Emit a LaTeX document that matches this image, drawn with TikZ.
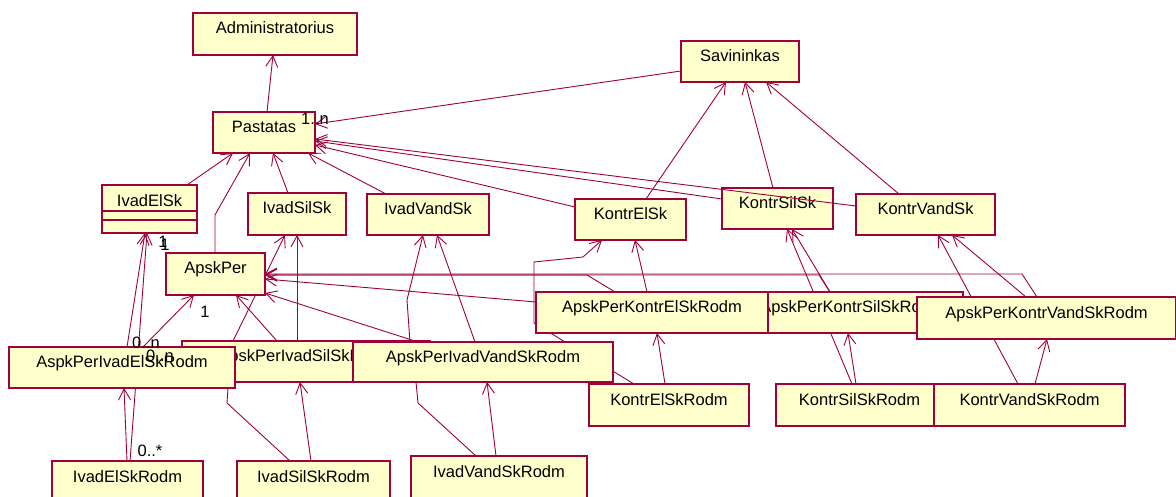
\documentclass[tikz,border=0pt]{standalone}
\usepackage{fontspec}
\setmainfont{Liberation Sans}
\usetikzlibrary{arrows.meta}
\definecolor{umlline}{RGB}{160,0,60}
\definecolor{umlfill}{RGB}{255,255,204}
\pgfdeclarelayer{back}
\pgfdeclarelayer{bg}
\pgfsetlayers{back,bg,main}
\begin{document}
\begin{tikzpicture}[x=1pt,y=-1pt,
  font=\fontsize{16.5}{19}\selectfont,
  cls/.style 2 args={rectangle, draw=umlline, fill=umlfill, line width=1.1pt,
    anchor=north west, inner sep=0pt, outer sep=0pt,
    minimum width=#1, minimum height=#2, text height=10pt, text depth=10pt},
  assoc/.style={draw=umlline, line width=0.9pt},
  nav/.style={assoc, -{Straight Barb[length=11pt,width=12pt]}},
  mult/.style={inner sep=0pt}
]
\begin{pgfonlayer}{back}
  \fill[white] (0,0) rectangle (1176,497);
\end{pgfonlayer}
\useasboundingbox (0,0) rectangle (1176,497);

% ---------- classes ----------
\node[cls={164pt}{42pt}] (Adm) at (193,13) {Administratorius};
\node[cls={102pt}{41pt}] (Pas) at (213,112) {Pastatas};
\node[cls={95pt}{48pt}, text depth=14pt] (IEl) at (102,185) {IvadElSk};
\draw[umlline, line width=1.1pt] ([yshift=-26pt]IEl.north west) -- ([yshift=-26pt]IEl.north east);
\draw[umlline, line width=1.1pt] ([yshift=-35pt]IEl.north west) -- ([yshift=-35pt]IEl.north east);
\node[cls={98pt}{42pt}] (ISil) at (248,193) {IvadSilSk};
\node[cls={122pt}{41pt}] (IVand) at (367,194) {IvadVandSk};
\node[cls={111pt}{41pt}] (KEl) at (575,199) {KontrElSk};
\node[cls={118pt}{41pt}] (Sav) at (681,41) {Savininkas};
\node[cls={111pt}{41pt}] (KSil) at (722,188) {KontrSilSk};
\node[cls={139pt}{41pt}] (KVand) at (856,194) {KontrVandSk};
\node[cls={99pt}{42pt}] (AP) at (166,253) {ApskPer};
\node[cls={248pt}{41pt}] (APISil) at (182,341) {ApskPerIvadSilSkRodm};
\node[cls={226pt}{41pt}] (APIEl) at (9,347) {AspkPerIvadElSkRodm};
\node[cls={260pt}{40pt}] (APIVand) at (353,342) {ApskPerIvadVandSkRodm};
\node[cls={222pt}{41pt}] (APKSil) at (741,292) {ApskPerKontrSilSkRodm};
\node[cls={232pt}{41pt}] (APKEl) at (536,292) {ApskPerKontrElSkRodm};
\node[cls={259pt}{42pt}] (APKVand) at (917,297) {ApskPerKontrVandSkRodm};
\node[cls={160pt}{42pt}] (KElR) at (589,384) {KontrElSkRodm};
\node[cls={167pt}{42pt}] (KSilR) at (776,384) {KontrSilSkRodm};
\node[cls={191pt}{42pt}] (KVandR) at (934,384) {KontrVandSkRodm};
\node[cls={151pt}{42pt}] (IElR) at (52,461) {IvadElSkRodm};
\node[cls={153pt}{42pt}] (ISilR) at (237,461) {IvadSilSkRodm};
\node[cls={176pt}{42pt}] (IVandR) at (411,456) {IvadVandSkRodm};

% ---------- bend points ----------
\coordinate (u4) at (215,215);
\coordinate (s1) at (227,403);
\coordinate (s2) at (228,388);
\coordinate (s3) at (233,341);
\coordinate (v1) at (418,403);
\coordinate (v2) at (416,382);
\coordinate (v3) at (410,342);
\coordinate (v4) at (407,300);
\coordinate (e1) at (534,323);
\coordinate (e2) at (534,262);
\coordinate (e3) at (583,257);
\coordinate (e4) at (587,275);
\coordinate (k1) at (819,275);
\coordinate (w1) at (1022,274);

% ---------- associations running behind the classes ----------
\begin{pgfonlayer}{bg}
  % electricity, inputs
  \draw[nav] ([xshift=118pt]APIEl.north west) -- ([xshift=43pt]IEl.south west);
  \draw[nav] ([xshift=134pt]APIEl.north west) -- ([xshift=28pt]AP.south west);
  \draw[nav] ([xshift=75pt]IElR.north west) -- ([xshift=115pt]APIEl.south west);
  \draw[nav] ([xshift=78pt]IElR.north west) -- ([xshift=45pt]IEl.south west);
  % heat, inputs
  \draw[nav] ([xshift=95pt]APISil.north west) -- ([xshift=70pt]AP.south west);
  \draw[nav] ([xshift=115pt]APISil.north west) -- ([xshift=49pt]ISil.south west);
  \draw[nav] ([xshift=74pt]ISilR.north west) -- ([xshift=118pt]APISil.south west);
  \draw[nav] ([xshift=53pt]ISilR.north west) -- (s1) -- (s2) -- (s3) -- ([xshift=37pt]ISil.south west);
  % water, inputs
  \draw[nav] ([xshift=65pt]APIVand.north west) -- ([yshift=-40pt]AP.north east);
  \draw[nav] ([xshift=122pt]APIVand.north west) -- ([xshift=70pt]IVand.south west);
  \draw[nav] ([xshift=85pt]IVandR.north west) -- ([xshift=134pt]APIVand.south west);
  \draw[nav] ([xshift=65pt]IVandR.north west) -- (v1) -- (v2) -- (v3) -- (v4) -- ([xshift=56pt]IVand.south west);
  % electricity, control meters
  \draw[nav] ([yshift=-10pt]APKEl.north west) -- ([yshift=-26pt]AP.north east);
  \draw[nav] ([xshift=111pt]APKEl.north west) -- ([xshift=60pt]KEl.south west);
  \draw[nav] ([xshift=76pt]KElR.north west) -- ([xshift=121pt]APKEl.south west);
  \draw[nav] ([xshift=45pt]KElR.north west) -- (e1) -- (e2) -- (e3) -- ([xshift=27pt]KEl.south west);
  \draw[nav] ([xshift=79pt]APKEl.north west) -- (e4) -- ([yshift=-22pt]AP.north east);
  % heat, control meters
  \draw[nav] ([xshift=89pt]APKSil.north west) -- (k1) -- ([yshift=-22pt]AP.north east);
  \draw[nav] ([xshift=89pt]APKSil.north west) -- ([xshift=70pt]KSil.south west);
  \draw[nav] ([xshift=76pt]KSilR.north west) -- ([xshift=65pt]KSil.south west);
  \draw[nav] ([xshift=80pt]KSilR.north west) -- ([xshift=107pt]APKSil.south west);
  % water, control meters
  \draw[nav] ([xshift=120pt]APKVand.north west) -- (w1) -- ([yshift=-21pt]AP.north east);
  \draw[nav] ([xshift=109pt]APKVand.north west) -- ([xshift=96pt]KVand.south west);
  \draw[nav] ([xshift=84pt]KVandR.north west) -- ([xshift=82pt]KVand.south west);
  \draw[nav] ([xshift=101pt]KVandR.north west) -- ([xshift=130pt]APKVand.south west);
\end{pgfonlayer}

% ---------- associations of the building and the owner ----------
\draw[nav] ([xshift=54pt]Pas.north west) -- ([xshift=80pt]Adm.south west);
\draw[nav] ([yshift=-30pt]Sav.north west) -- ([yshift=-12pt]Pas.north east);
\draw[nav] ([xshift=85pt]IEl.north west) -- ([xshift=20pt]Pas.south west);
\draw[nav] ([xshift=49pt]AP.north west) -- (u4) -- ([xshift=37pt]Pas.south west);
\draw[nav] ([xshift=40pt]ISil.north west) -- ([xshift=60pt]Pas.south west);
\draw[nav] ([xshift=19pt]IVand.north west) -- ([xshift=95pt]Pas.south west);
\draw[nav] ([yshift=-8pt]KEl.north west) -- ([yshift=-33pt]Pas.north east);
\draw[nav] ([yshift=-11pt]KSil.north west) -- ([yshift=-29pt]Pas.north east);
\draw[nav] ([yshift=-12pt]KVand.north west) -- ([yshift=-27pt]Pas.north east);
\draw[nav] ([xshift=71pt]KEl.north west) -- ([xshift=45pt]Sav.south west);
\draw[nav] ([xshift=51pt]KSil.north west) -- ([xshift=64pt]Sav.south west);
\draw[nav] ([xshift=43pt]KVand.north west) -- ([xshift=85pt]Sav.south west);

% ---------- multiplicities ----------
\node[mult] (m1) at (315,119) {1..n};
\node[mult] (m2) at (163,242) {1};
\node[mult] (m3) at (165,245) {1};
\node[mult] (m4) at (205,312) {1};
\node[mult] (m5) at (146,343) {0..n};
\node[mult] (m6) at (160,356) {0..n};
\node[mult] (m7) at (150,451) {0..*};
\end{tikzpicture}
\end{document}
